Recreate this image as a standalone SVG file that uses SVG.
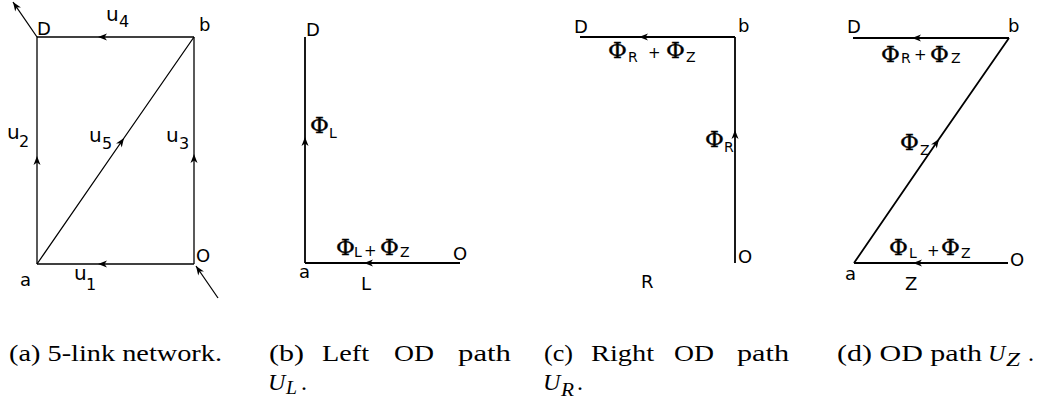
<svg xmlns="http://www.w3.org/2000/svg" width="1041" height="403" viewBox="0 0 1041 403">
<style>
.bg{fill:#ffffff}
.ln{fill:none;stroke:#000;stroke-width:1.3}
.lnb{fill:none;stroke:#000;stroke-width:1.8}
.mid{marker-mid:url(#ah)}
.end{marker-end:url(#ah)}
.nd{font-family:"DejaVu Sans",sans-serif;font-size:18px;fill:#000}
.u{font-family:"DejaVu Sans",sans-serif;font-size:20px;fill:#000}
.us{font-family:"DejaVu Sans",sans-serif;font-size:16px;fill:#000}
.phi{font-family:"DejaVu Serif",serif;font-size:23px;fill:#000;stroke:#000;stroke-width:0.4}
.ps{font-family:"DejaVu Sans",sans-serif;font-size:14px;fill:#000}
.pl{font-family:"DejaVu Sans",sans-serif;font-size:15px;fill:#000}
.cap{font-family:"Liberation Serif",serif;font-size:24px;fill:#000}
.capi{font-family:"Liberation Serif",serif;font-size:24px;font-style:italic;fill:#000}
.capis{font-family:"Liberation Serif",serif;font-size:18px;font-style:italic;fill:#000}
</style>
<defs>
<marker id="ah" markerUnits="userSpaceOnUse" markerWidth="12" markerHeight="10" viewBox="-10 -5 12 10" refX="0" refY="0" orient="auto" overflow="visible">
<path d="M0,0 L-9,-3.5 L-6.5,0 L-9,3.5 Z" fill="#000"/>
</marker>
</defs>
<rect class="bg" x="0" y="0" width="1041" height="403"/>

<g id="connectors">
<path id="u4" class="ln mid" d="M194,37 L98,37 L37,37"/>
<path id="u1" class="ln mid" d="M194,264 L98,264 L37,264"/>
<path id="u2" class="ln mid" d="M37,264 L37,156 L37,37"/>
<path id="u3" class="ln mid" d="M194,264 L194,154 L194,37"/>
<path id="u5" class="ln mid" d="M37,264 L124,138 L194,37"/>
<path id="outD" class="ln end" d="M37,37 L13,2"/>
<path id="inO" class="ln end" d="M218,298 L196,266"/>
<path class="lnb mid" d="M305,263 L305,137 L305,37"/>
<path class="lnb mid" d="M460,263 L364,263 L305,263"/>
<path class="lnb mid" d="M735,37 L639,37 L580,37"/>
<path class="lnb mid" d="M735,263 L735,130 L735,37"/>
<path class="lnb mid" d="M1009,38 L912,38 L853,38"/>
<path class="lnb mid" d="M854,263 L939,139 L1009,38"/>
<path class="lnb mid" d="M1008,263 L913,263 L854,263"/>
</g>

<g id="panel-a">
<g id="a-D"><text class="nd" x="37" y="35">D</text></g>
<g id="a-b"><text class="nd" x="199" y="31">b</text></g>
<g id="a-a"><text class="nd" x="20" y="286">a</text></g>
<g id="a-O"><text class="nd" x="196" y="262">O</text></g>
<text class="u" x="106" y="21">u</text><text class="us" x="119" y="27">4</text>
<text class="u" x="7" y="139">u</text><text class="us" x="19" y="147">2</text>
<text class="u" x="89" y="142">u</text><text class="us" x="102" y="149">5</text>
<text class="u" x="166" y="142">u</text><text class="us" x="179" y="149">3</text>
<text class="u" x="74" y="280">u</text><text class="us" x="86" y="290">1</text>
</g>

<g id="panel-b">
<g id="b-D"><text class="nd" x="306" y="36">D</text></g>
<g id="b-a"><text class="nd" x="299" y="278">a</text></g>
<g id="b-O"><text class="nd" x="453" y="260">O</text></g>
<text class="phi" x="310" y="133">Φ</text><text class="ps" x="329" y="138">L</text>
<text class="phi" x="336" y="255">Φ</text><text class="ps" x="354" y="257">L</text>
<text class="pl" x="364" y="256">+</text>
<text class="phi" x="380" y="255">Φ</text><text class="ps" x="400" y="257">Z</text>
<text class="nd" x="361" y="290">L</text>
</g>

<g id="panel-c">
<g id="c-D"><text class="nd" x="574" y="33">D</text></g>
<g id="c-b"><text class="nd" x="738" y="32">b</text></g>
<g id="c-O"><text class="nd" x="738" y="263">O</text></g>
<text class="phi" x="608" y="58">Φ</text><text class="ps" x="628" y="62">R</text>
<text class="pl" x="648" y="58">+</text>
<text class="phi" x="666" y="58">Φ</text><text class="ps" x="686" y="62">Z</text>
<text class="phi" x="705" y="147">Φ</text><text class="ps" x="724" y="152">R</text>
<text class="nd" x="641" y="288">R</text>
</g>

<g id="panel-d">
<g id="d-D"><text class="nd" x="847" y="33">D</text></g>
<g id="d-b"><text class="nd" x="1008" y="32">b</text></g>
<g id="d-a"><text class="nd" x="845" y="280">a</text></g>
<g id="d-O"><text class="nd" x="1010" y="266">O</text></g>
<text class="phi" x="881" y="62">Φ</text><text class="ps" x="901" y="63">R</text>
<text class="pl" x="914" y="60">+</text>
<text class="phi" x="930" y="62">Φ</text><text class="ps" x="951" y="63">Z</text>
<text class="phi" x="900" y="150">Φ</text><text class="ps" x="920" y="155">Z</text>
<text class="phi" x="889" y="255">Φ</text><text class="ps" x="909" y="258">L</text>
<text class="pl" x="927" y="256">+</text>
<text class="phi" x="941" y="255">Φ</text><text class="ps" x="961" y="258">Z</text>
<text class="nd" x="905" y="290">Z</text>
</g>

<g id="captions">
<text class="cap" x="9" y="361" textLength="213" lengthAdjust="spacingAndGlyphs">(a) 5-link network.</text>
<text class="cap" x="269" y="361" textLength="35" lengthAdjust="spacingAndGlyphs">(b)</text>
<text class="cap" x="322" y="361" textLength="47" lengthAdjust="spacingAndGlyphs">Left</text>
<text class="cap" x="394" y="361" textLength="40" lengthAdjust="spacingAndGlyphs">OD</text>
<text class="cap" x="458" y="361" textLength="53" lengthAdjust="spacingAndGlyphs">path</text>
<text class="capi" x="268" y="390">U</text><text class="capis" x="286" y="394" textLength="11" lengthAdjust="spacingAndGlyphs">L</text><text class="cap" x="301" y="390">.</text>
<text class="cap" x="544" y="361" textLength="29" lengthAdjust="spacingAndGlyphs">(c)</text>
<text class="cap" x="591" y="361" textLength="63" lengthAdjust="spacingAndGlyphs">Right</text>
<text class="cap" x="674" y="361" textLength="40" lengthAdjust="spacingAndGlyphs">OD</text>
<text class="cap" x="737" y="361" textLength="52" lengthAdjust="spacingAndGlyphs">path</text>
<text class="capi" x="543" y="390">U</text><text class="capis" x="561" y="396" textLength="13" lengthAdjust="spacingAndGlyphs">R</text><text class="cap" x="577" y="390">.</text>
<text class="cap" x="837" y="361" textLength="145" lengthAdjust="spacingAndGlyphs">(d) OD path</text>
<text class="capi" x="988" y="361">U</text><text class="capis" x="1006" y="366" textLength="14" lengthAdjust="spacingAndGlyphs">Z</text><text class="cap" x="1028" y="361">.</text>
</g>
</svg>
